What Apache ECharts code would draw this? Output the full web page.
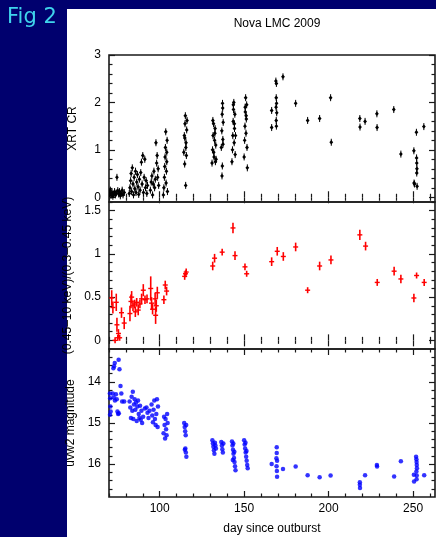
<!DOCTYPE html>
<html>
<head>
<meta charset="utf-8">
<script src="https://cdn.jsdelivr.net/npm/echarts@6/dist/echarts.min.js"></script>
<style>
html, body { margin: 0; padding: 0; background: #00006e; }
#wrap { position: relative; width: 436px; height: 537px; }
#paper { position: absolute; left: 67px; top: 9px; width: 369px; height: 528px; background: #fff; }
#chart { position: absolute; left: 0; top: 0; width: 436px; height: 537px; }
</style>
</head>
<body>
<div id="wrap">
  <div id="paper"></div>
  <div id="chart"></div>
</div>
<script>
// XRT count rate: [day, rate]
const xrtData = [
  [70.3,0.08],[70.8,0.15],[71.2,0.04],[71.8,0.1],[72.3,0.02],[72.8,0.06],[73.3,0.12],[73.8,0.05],
  [74.3,0.09],[74.7,0.42],[75.2,0.14],[75.7,0.07],[76.2,0.12],[76.7,0.03],[77.2,0.08],[77.8,0.15],
  [78.3,0.05],[79,0.1],
  [82,0.08],[82.4,0.2],[82.8,0.35],[83.1,0.5],[83.4,0.12],[83.8,0.62],[84.2,0.28],[84.5,0.05],
  [84.9,0.42],[85.3,0.18],[85.7,0.55],[86,0.1],[86.4,0.32],[86.8,0.48],[87.2,0.22],[87.6,0.06],
  [88,0.38],[88.4,0.15],[88.8,0.52],[89.2,0.74],[89.6,0.28],[90,0.88],[90.4,0.1],[90.8,0.42],
  [91.2,0.8],[91.6,0.2],[92,0.35],[92.4,0.08],[92.8,0.25],
  [94.5,0.15],[95,0.32],[95.4,0.45],[95.8,0.05],[96.2,0.28],[96.6,0.55],[97,0.2],[97.4,0.38],
  [97.8,1.15],[98.2,0.72],[98.5,0.88],[98.8,0.42],[99.1,0.6],[99.4,0.25],
  [102.2,0.05],[102.5,0.2],[102.8,0.42],[103,0.65],[103.2,0.85],[103.4,1.05],[103.6,1.38],[103.8,0.3],
  [104,0.55],[104.2,0.75],[104.4,1.2],[104.6,0.12],[104.2,0.95],
  [114.3,0.95],[114.6,1.3],[114.8,0.7],[115,1.55],[115.2,1.72],[115.4,0.25],[115.6,1.15],[115.8,0.88],
  [116,1.42],[116.2,1.62],[115.5,1.05],[114.9,1.25],
  [131,0.72],[131.3,1.0],[131.6,1.3],[131.9,1.55],[132.2,0.85],[132.5,1.2],[132.8,1.45],[133,0.75],
  [133.2,1.1],[131.5,1.62],[132,0.95],[132.7,1.35],[133.4,0.8],
  [136.5,1.05],[136.8,1.4],[137,1.75],[137.2,1.98],[137.4,1.22],[137.6,1.58],[137.1,0.66],[136.9,0.45],
  [137.3,1.88],[137.5,1.12],
  [142.8,0.75],[143.1,1.0],[143.3,1.3],[143.5,1.6],[143.7,1.85],[143.9,2.0],[144.1,1.15],[144.3,1.45],
  [144.5,1.75],[144.7,0.9],[144.9,1.3],[143.6,1.95],[144.2,1.55],
  [150,0.85],[150.3,1.2],[150.5,1.5],[150.7,1.8],[150.9,2.1],[151.1,1.35],[151.3,1.65],[151.5,1.95],
  [151.7,1.05],[151.9,0.62],[150.6,1.9],[151.2,1.72],
  [166.3,1.83],[166.3,1.47],[168.8,2.45],[169.1,2.4],[169,2.1],[169.2,1.98],[168.9,1.9],[169.3,1.78],
  [169,1.62],[169.1,1.5],[173,2.54],[180.5,1.98],[187.6,1.62],[194.7,1.66],[201.2,2.1],[201.6,1.16],
  [218.5,1.66],[218.6,1.48],[221.6,1.6],[228.6,1.76],[228.7,1.47],[238.6,1.85],[242.8,0.91],
  [250.5,0.98],[250.6,0.3],[250.9,0.28],[252,1.37],[252.1,0.83],[252.2,0.72],[252.3,0.6],[252.2,0.51],
  [252.4,0.23],[256.4,1.49]
];

// hardness ratio: [day, ratio, error]
const ratioData = [
  [71.6,0.49,0.09],[72.3,0.38,0.07],[73.6,0.0,0.0],[74.3,0.44,0.1],[74.7,0.18,0.08],[75.2,0.03,0.03],
  [75.6,0.08,0.05],[76.3,0.03,0.03],[77.4,0.32,0.06],[79,0.2,0.07],
  [82.4,0.31,0.09],[83,0.45,0.08],[83.4,0.5,0.07],[84.2,0.4,0.06],[85.2,0.42,0.05],[85.6,0.33,0.06],
  [86.4,0.44,0.05],[87.3,0.35,0.06],[88.3,0.42,0.05],[89.3,0.48,0.06],[90.3,0.58,0.07],[91.3,0.47,0.05],
  [92.5,0.48,0.05],[94.7,0.6,0.14],[95.2,0.43,0.07],[95.8,0.36,0.06],[97.3,0.48,0.07],[97.6,0.29,0.1],
  [98,0.4,0.07],[98.6,0.55,0.07],[102.5,0.47,0.05],[103.3,0.64,0.05],[104.1,0.57,0.05],
  [114.8,0.74,0.04],[115.3,0.77,0.04],[115.7,0.79,0.04],[131.4,0.86,0.05],[132.5,0.95,0.05],
  [137,1.02,0.04],[143.4,1.3,0.06],[144.6,0.98,0.05],[150.5,0.85,0.04],[151.5,0.77,0.03],
  [166.3,0.91,0.05],[169.6,1.03,0.05],[173.2,0.97,0.05],[180.5,1.08,0.05],[187.6,0.58,0.03],
  [194.7,0.86,0.05],[201.4,0.93,0.05],[218.5,1.22,0.06],[221.9,1.09,0.05],[228.8,0.67,0.04],
  [238.8,0.8,0.05],[242.8,0.71,0.05],[250.5,0.49,0.05],[252.1,0.75,0.03],[256.6,0.67,0.04]
];

// UVOT uvw2 magnitude: [day, mag]
const uvw2Data = [
  [70.5,14.28],[70.7,14.4],[70.8,14.6],[71,14.72],[70.6,14.8],[72.6,13.67],[73.4,13.54],[73,13.62],
  [75.7,13.46],[76.2,13.69],[72.2,14.28],[72.8,14.38],[73.5,14.45],[74.1,14.3],[74.6,14.42],[75,14.72],
  [75.4,14.78],[75.8,14.76],[76.8,14.1],[77.3,14.28],[77.8,14.48],[79,14.48],
  [82.2,14.48],[82.6,14.62],[83,14.88],[83.4,14.36],[83.8,14.7],[84.1,14.24],[84.4,14.9],[84.8,14.55],
  [85.2,14.42],[85.6,14.68],[86,14.5],[86.4,14.95],[86.8,14.6],[87.2,14.45],[87.6,14.78],[88,14.88],
  [88.4,14.58],[88.8,14.92],[89.2,14.7],[89.6,15.0],[90.2,14.85],[91.2,14.65],[92.2,14.62],[92.8,14.75],
  [93.4,14.88],[94,14.7],[95.2,14.55],[95.6,14.82],[96,14.98],[96.4,14.68],[96.8,14.45],[97.2,14.9],
  [97.6,15.05],[98,14.78],[98.4,14.42],[98.8,15.1],[99,14.6],
  [102.3,15.25],[102.6,14.85],[102.9,15.05],[103.2,15.38],[103.5,14.9],[103.8,15.15],[104.1,15.3],
  [104.4,14.78],[104.7,15.0],
  [114.5,15.0],[114.8,15.1],[115.1,15.2],[115.4,15.3],[115.7,15.05],[115.2,15.62],[115.5,15.72],
  [115.8,15.82],[114.9,15.65],
  [131.2,15.42],[131.5,15.5],[131.8,15.58],[132.1,15.66],[132.4,15.75],[132.7,15.48],[133,15.55],[133.3,15.62],
  [136.5,15.46],[136.8,15.55],[137.1,15.64],[137.4,15.72],[137.7,15.5],
  [142.8,15.45],[143.1,15.55],[143.4,15.65],[143.7,15.75],[144,15.85],[144.3,15.95],[144.6,16.05],
  [144.9,16.15],[143.6,15.5],[144.2,15.7],[143.3,15.9],
  [150,15.42],[150.3,15.52],[150.6,15.62],[150.9,15.72],[151.2,15.82],[151.5,15.92],[151.8,16.02],
  [152.1,16.1],[150.8,15.48],[151.4,15.68],
  [166.3,16.0],[169.3,15.59],[169.3,15.73],[169.1,15.86],[169.5,15.92],[169.2,16.05],[169.4,16.17],
  [169.5,16.31],[173,16.12],[180.5,16.06],[187.6,16.27],[194.7,16.32],[201.2,16.28],[218.5,16.44],
  [218.5,16.5],[218.6,16.58],[221.6,16.27],[228.6,16.02],[228.7,16.06],[238.8,16.3],[242.8,15.93],
  [250.5,16.26],[250.6,16.42],[251.8,15.82],[252,15.88],[252.1,15.95],[252.2,16.02],[252.3,16.1],
  [252,16.18],[252.2,16.28],[252.1,16.37],[256.6,16.27]
];

// tick positions
const dayMajor = [100, 150, 200, 250];
const dayMinor = [70, 80, 90, 110, 120, 130, 140, 160, 170, 180, 190, 210, 220, 230, 240, 260];
const xrtMajor = [0, 1, 2, 3];
const xrtMinor = [0.2, 0.4, 0.6, 0.8, 1.2, 1.4, 1.6, 1.8, 2.2, 2.4, 2.6, 2.8];
const ratioMajor = [0, 0.5, 1, 1.5];
const ratioMinor = [0.1, 0.2, 0.3, 0.4, 0.6, 0.7, 0.8, 0.9, 1.1, 1.2, 1.3, 1.4, 1.6];
const magMajor = [14, 15, 16];
const magMinor = [13.4, 13.6, 13.8, 14.2, 14.4, 14.6, 14.8, 15.2, 15.4, 15.6, 15.8, 16.2, 16.4, 16.6];

const FONT = 'Liberation Sans';
const INK = '#1a1a1a';

const panels = [
  { top: 55,  height: 147, min: -0.1, max: 3,   inverse: false, major: xrtMajor,   minor: xrtMinor,   name: 'XRT CR' },
  { top: 202, height: 147, min: -0.1, max: 1.6, inverse: false, major: ratioMajor, minor: ratioMinor, name: '(0.45\u201310 keV)/(0.3\u20130.45 keV)' },
  { top: 349, height: 148, min: 13.2, max: 16.8, inverse: true, major: magMajor,   minor: magMinor,   name: 'uvw2 magnitude' }
];

let grids = [], xAxes = [], yAxes = [];
panels.forEach(function (p, g) {
  grids.push({ left: 109, right: 1, top: p.top, height: p.height, show: true,
    borderColor: INK, borderWidth: 1.6, backgroundColor: 'transparent' });
  let last = g === panels.length - 1;
  ['bottom', 'top'].forEach(function (pos) {
    [[dayMajor, 6], [dayMinor, 3.5]].forEach(function (t, k) {
      let labelOn = last && pos === 'bottom' && k === 0;
      xAxes.push({
        type: 'value', gridIndex: g, min: 70, max: 263, position: pos,
        axisLine: { show: false }, splitLine: { show: false },
        axisTick: { inside: true, length: t[1], customValues: t[0], lineStyle: { color: INK, width: 1.2 } },
        axisLabel: { show: labelOn, customValues: t[0], color: '#000', fontSize: 12, fontFamily: FONT, margin: 6 },
        name: labelOn ? 'day since outburst' : '', nameLocation: 'middle', nameGap: 26,
        nameTextStyle: { color: '#000', fontSize: 12, fontFamily: FONT }
      });
    });
  });
  ['left', 'right'].forEach(function (pos) {
    [[p.major, 6], [p.minor, 3.5]].forEach(function (t, k) {
      let labelOn = pos === 'left' && k === 0;
      yAxes.push({
        type: 'value', gridIndex: g, min: p.min, max: p.max, inverse: p.inverse, position: pos,
        axisLine: { show: false }, splitLine: { show: false },
        axisTick: { inside: true, length: t[1], customValues: t[0], lineStyle: { color: INK, width: 1.2 } },
        axisLabel: { show: labelOn, customValues: t[0], color: '#000', fontSize: 12, fontFamily: FONT, margin: 8 },
        name: labelOn ? p.name : '', nameLocation: 'middle', nameGap: 30,
        nameTextStyle: { color: '#000', fontSize: 12, fontFamily: FONT }
      });
    });
  });
});

function renderXrt(params, api) {
  let c = api.coord([api.value(0), api.value(1)]);
  return { type: 'group', children: [
    { type: 'line', shape: { x1: c[0], y1: c[1] - 3.5, x2: c[0], y2: c[1] + 3.5 }, style: { stroke: '#000', lineWidth: 1 } },
    { type: 'polygon', shape: { points: [[c[0], c[1] - 2.2], [c[0] + 1.9, c[1]], [c[0], c[1] + 2.2], [c[0] - 1.9, c[1]]] }, style: { fill: '#000' } }
  ] };
}

function renderRatio(params, api) {
  let x = api.value(0), y = api.value(1), e = api.value(2);
  let c = api.coord([x, y]);
  let lo = api.coord([x, y - e]), hi = api.coord([x, y + e]);
  let y1 = Math.min(hi[1], c[1] - 3), y2 = Math.max(lo[1], c[1] + 3);
  return { type: 'group', children: [
    { type: 'line', shape: { x1: c[0], y1: y1, x2: c[0], y2: y2 }, style: { stroke: '#ff0000', lineWidth: 1.6 } },
    { type: 'line', shape: { x1: c[0] - 2.5, y1: c[1], x2: c[0] + 2.5, y2: c[1] }, style: { stroke: '#ff0000', lineWidth: 1.4 } }
  ] };
}

let myChart = echarts.init(document.getElementById('chart'), null, { renderer: 'canvas' });
let option = {
  backgroundColor: 'transparent',
  animation: false,
  title: {
    text: 'Nova LMC 2009', left: 272, top: 13, textAlign: 'center',
    textStyle: { color: '#000', fontSize: 12, fontWeight: 'normal', fontFamily: FONT }
  },
  graphic: [
    { type: 'text', left: 7, top: 7, style: { text: 'Fig 2', fill: '#3fd4ec', font: '21px "DejaVu Sans"' } }
  ],
  grid: grids,
  xAxis: xAxes,
  yAxis: yAxes,
  series: [
    { type: 'custom', xAxisIndex: 0, yAxisIndex: 0, data: xrtData, renderItem: renderXrt, clip: true, encode: { x: 0, y: 1 } },
    { type: 'custom', xAxisIndex: 4, yAxisIndex: 4, data: ratioData, renderItem: renderRatio, clip: true, encode: { x: 0, y: 1 } },
    { type: 'scatter', xAxisIndex: 8, yAxisIndex: 8, data: uvw2Data, symbol: 'circle', symbolSize: 4.5,
      itemStyle: { color: '#0000ff' }, clip: true }
  ]
};
myChart.setOption(option);
</script>
</body>
</html>
